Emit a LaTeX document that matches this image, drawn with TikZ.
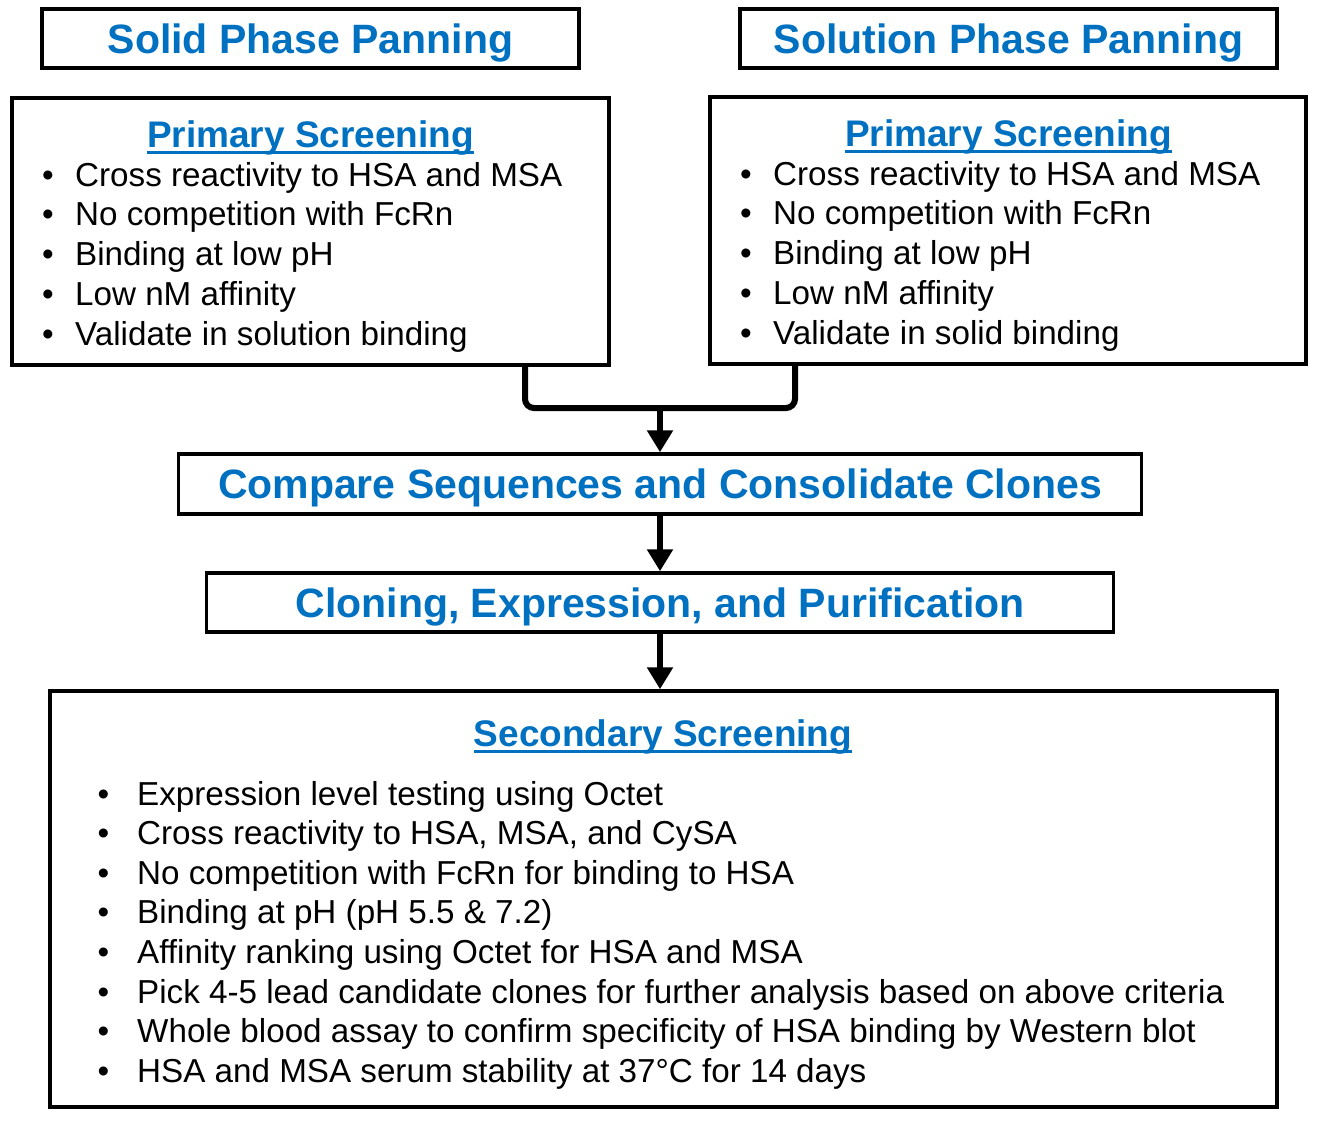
\documentclass[tikz,border=0pt]{standalone}
\usepackage{fontspec}
\setmainfont{Liberation Sans}
\usetikzlibrary{arrows.meta}

\definecolor{titleblue}{RGB}{0,112,192}

\begin{document}
\begin{tikzpicture}[x=1pt, y=-1pt, >={Triangle[width=25pt,length=22pt]},
  box/.style={draw, line width=3.5pt, inner sep=0pt},
  head/.style={text=titleblue, font=\fontsize{41}{49}\selectfont\bfseries, inner sep=0pt, anchor=base},
  subhead/.style={text=titleblue, font=\fontsize{37}{44}\selectfont\bfseries, inner sep=0pt, anchor=base},
  item/.style={font=\fontsize{33.2}{40}\selectfont, inner sep=0pt, anchor=base west},
  dot/.style={font=\fontsize{33.2}{40}\selectfont, inner sep=0pt, anchor=base},
  flow/.style={line width=6pt}]

\useasboundingbox (0,0) rectangle (1320,1120);

% Panning boxes
\node[box, minimum width=537pt, minimum height=59pt] (solid) at (310.5,38.5) {};
\node[box, minimum width=537pt, minimum height=59pt] (solution) at (1008.5,38.5) {};
\node[head] (solidT) at (310.5,53.2) {Solid Phase Panning};
\node[head] (solutionT) at (1008.5,53.2) {Solution Phase Panning};

% Primary screening boxes
\node[box, minimum width=597pt, minimum height=267pt] (left) at (310.5,231.5) {};
\node[box, minimum width=596pt, minimum height=267pt] (right) at (1008,230.5) {};
\node[subhead] (leftT) at (310.5,147) {Primary Screening};
\node[subhead] (rightT) at (1008.5,146) {Primary Screening};
\draw[titleblue, line width=3pt] ([yshift=-5pt]leftT.base west) -- ([yshift=-5pt]leftT.base east);
\draw[titleblue, line width=3pt] ([yshift=-5pt]rightT.base west) -- ([yshift=-5pt]rightT.base east);

\foreach \txt [count=\i] in {Cross reactivity to HSA and MSA, No competition with FcRn,
    Binding at low pH, Low nM affinity, Validate in solution binding} {
  \node[dot] (lb\i) at (48,{186+39.75*(\i-1)}) {•};
  \node[item] (lt\i) at (75,{186+39.75*(\i-1)}) {\txt};
}
\foreach \txt [count=\i] in {Cross reactivity to HSA and MSA, No competition with FcRn,
    Binding at low pH, Low nM affinity, Validate in solid binding} {
  \node[dot] (rb\i) at (746,{185+39.75*(\i-1)}) {•};
  \node[item] (rt\i) at (773,{185+39.75*(\i-1)}) {\txt};
}

% Middle steps
\node[box, minimum width=963pt, minimum height=60pt] (compare) at (660,484) {};
\node[head] (compareT) at (660,498.7) {Compare Sequences and Consolidate Clones};
\node[box, minimum width=907pt, minimum height=59pt] (cloning) at (660,602.5) {};
\node[head] (cloningT) at (660,617.2) {Cloning, Expression, and Purification};

% Secondary screening box
\node[box, minimum width=1227pt, minimum height=416pt] (second) at (663.5,899) {};
\node[subhead] (secondT) at (663,746) {Secondary Screening};
\draw[titleblue, line width=3pt] ([yshift=-5pt]secondT.base west) -- ([yshift=-5pt]secondT.base east);

\foreach \txt [count=\i] in {Expression level testing using Octet,
    {Cross reactivity to HSA, MSA, and CySA},
    No competition with FcRn for binding to HSA,
    Binding at pH (pH 5.5 \& 7.2),
    Affinity ranking using Octet for HSA and MSA,
    Pick 4-5 lead candidate clones for further analysis based on above criteria,
    Whole blood assay to confirm specificity of HSA binding by Western blot,
    HSA and MSA serum stability at 37°C for 14 days} {
  \node[dot] (sb\i) at (103.5,{805+39.6*(\i-1)}) {•};
  \node[item] (st\i) at (137,{805+39.6*(\i-1)}) {\txt};
}

% Connectors
\coordinate (lfoot) at (525,365);
\coordinate (rfoot) at (795,364);
\coordinate (join) at (660,408);
\draw[flow, rounded corners=9pt] (lfoot) |- (join) -| (rfoot);
\draw[flow, ->] (join) -- (join |- compare.north);
\draw[flow, ->] (compare.south) -- (cloning.north);
\draw[flow, ->] (cloning.south) -- (cloning.south |- second.north);

\end{tikzpicture}
\end{document}
